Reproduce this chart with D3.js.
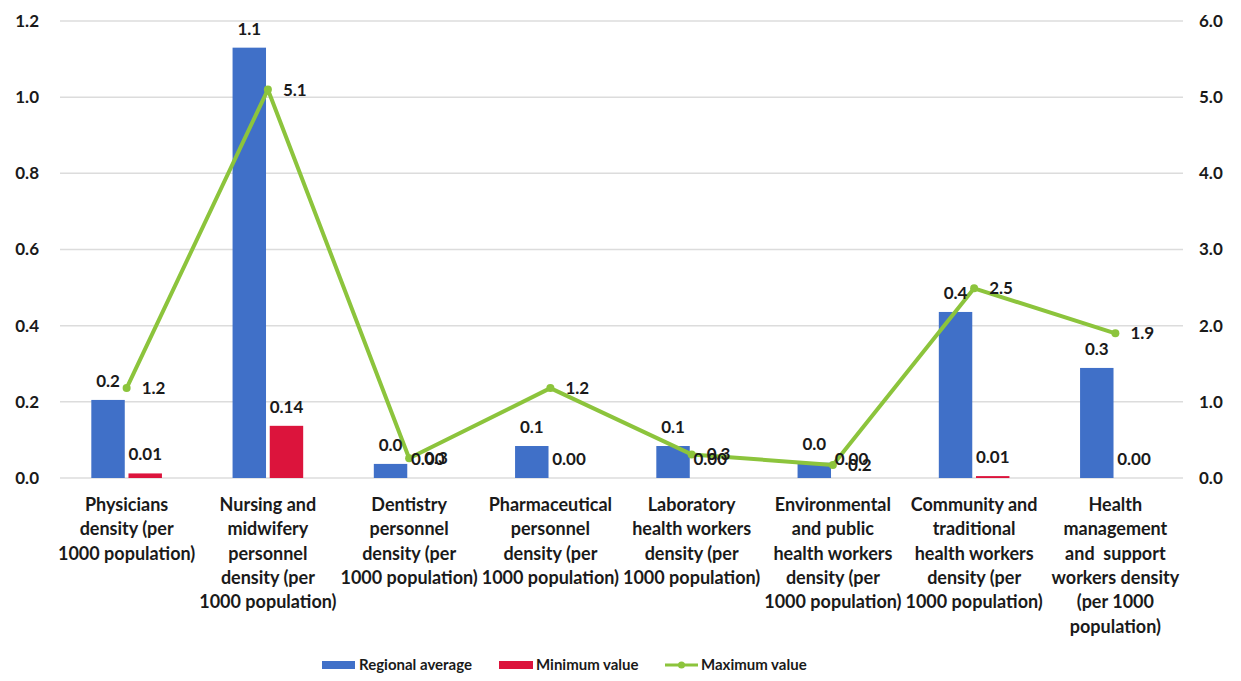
<!DOCTYPE html>
<html><head><meta charset="utf-8">
<script src="https://cdn.jsdelivr.net/npm/d3@7"></script>
<style>
body{margin:0;background:#fff;}
text{font-family:Lato,"Open Sans",sans-serif;font-weight:700;fill:#1a1a1a;}
</style></head>
<body><svg id="c" width="1241" height="681"></svg>
<script>
const categories = [
  ["Physicians","density (per","1000 population)"],
  ["Nursing and","midwifery","personnel","density (per","1000 population)"],
  ["Dentistry","personnel","density (per","1000 population)"],
  ["Pharmaceutical","personnel","density (per","1000 population)"],
  ["Laboratory","health workers","density (per","1000 population)"],
  ["Environmental","and public","health workers","density (per","1000 population)"],
  ["Community and","traditional","health workers","density (per","1000 population)"],
  ["Health","management","and  support","workers density","(per 1000","population)"]
];
const regionalAverage = [0.205, 1.13, 0.037, 0.084, 0.084, 0.04, 0.436, 0.289];
const minimumValue   = [0.012, 0.137, 0.0, 0.0, 0.0, 0.0, 0.005, 0.0];
const maximumValue   = [1.18, 5.1, 0.26, 1.18, 0.31, 0.17, 2.49, 1.9];
const leftTicks  = [0, 0.2, 0.4, 0.6, 0.8, 1.0, 1.2];
const rightTicks = [0, 1, 2, 3, 4, 5, 6];
const seriesNames = ["Regional average","Minimum value","Maximum value"];

const colors = {avg:"#4070c8", min:"#dc143c", max:"#8cc43c"};
const svg = d3.select("#c");
const L = 56, R = 1186, T = 21, B = 478;
const ids = categories.map((d,i)=>i);

const x0 = d3.scaleBand().domain(ids).range([L,R]).paddingInner(0.5).paddingOuter(0.25);
const x1 = d3.scaleBand().domain(["avg","min"]).range([0,x0.bandwidth()]).paddingInner(0.1);
const yL = d3.scaleLinear().domain([0,1.2]).range([B,T]);
const yR = d3.scaleLinear().domain([0,6]).range([B,T]);

// gridlines
svg.append("g").selectAll("line").data(leftTicks).join("line")
  .attr("x1",60).attr("x2",1183)
  .attr("y1",d=>yL(d)).attr("y2",d=>yL(d))
  .attr("stroke","#dcdcdc").attr("stroke-width",1.5);

// left axis
const axL = d3.axisLeft(yL).tickValues(leftTicks).tickFormat(d3.format(".1f")).tickSize(0).tickPadding(0);
const gL = svg.append("g").attr("transform","translate(39,0)").call(axL);
gL.select(".domain").remove();
gL.selectAll("text").attr("font-size",17).attr("font-family","Lato").attr("font-weight",700).attr("fill","#1a1a1a");

const axR = d3.axisRight(yR).tickValues(rightTicks).tickFormat(d3.format(".1f")).tickSize(0).tickPadding(0);
const gR = svg.append("g").attr("transform","translate(1199,0)").call(axR);
gR.select(".domain").remove();
gR.selectAll("text").attr("font-size",17).attr("font-family","Lato").attr("font-weight",700).attr("fill","#1a1a1a");

// bars
const g = svg.append("g");
g.selectAll(".avg").data(regionalAverage).join("rect")
  .attr("x",(d,i)=>x0(i)+x1("avg")).attr("width",x1.bandwidth())
  .attr("y",d=>yL(d)).attr("height",d=>B-yL(d)).attr("fill",colors.avg);
g.selectAll(".min").data(minimumValue).join("rect")
  .attr("x",(d,i)=>x0(i)+x1("min")).attr("width",x1.bandwidth())
  .attr("y",d=>yL(d)).attr("height",d=>B-yL(d)).attr("fill",colors.min);

// line
const cx = i => x0(i)+x0.bandwidth()/2;
const line = d3.line().x((d,i)=>cx(i)).y(d=>yR(d));
svg.append("path").datum(maximumValue).attr("d",line)
  .attr("fill","none").attr("stroke",colors.max).attr("stroke-width",4).attr("stroke-linejoin","round");
svg.append("g").selectAll("circle").data(maximumValue).join("circle")
  .attr("cx",(d,i)=>cx(i)).attr("cy",d=>yR(d)).attr("r",4).attr("fill",colors.max);

// value labels
const lbl = svg.append("g").attr("font-size",17);
lbl.selectAll(".la").data(regionalAverage).join("text")
  .attr("x",(d,i)=>x0(i)+x1("avg")+x1.bandwidth()/2).attr("y",d=>yL(d)-13)
  .attr("text-anchor","middle").text(d=>d3.format(".1f")(d));
lbl.selectAll(".lm").data(minimumValue).join("text")
  .attr("x",(d,i)=>x0(i)+x1("min")+x1.bandwidth()/2).attr("y",d=>yL(d)-13)
  .attr("text-anchor","middle").text(d=>d3.format(".2f")(d));
lbl.selectAll(".lx").data(maximumValue).join("text")
  .attr("x",(d,i)=>cx(i)+15).attr("y",d=>yR(d)+6)
  .attr("text-anchor","start").text(d=>d3.format(".1f")(d));

// category labels
const cat = svg.append("g").attr("font-size",18);
categories.forEach((lines,i)=>{
  const t = cat.append("text").attr("text-anchor","middle").attr("x",cx(i)).attr("y",511);
  lines.forEach((ln,j)=>t.append("tspan").attr("x",cx(i)).attr("dy",j?24.3:0).attr("xml:space","preserve").text(ln));
});

// legend
const lg = svg.append("g").attr("font-size",15);
lg.append("rect").attr("x",322).attr("y",661).attr("width",33).attr("height",8).attr("fill",colors.avg);
lg.append("text").attr("x",359).attr("y",670).text(seriesNames[0]);
lg.append("rect").attr("x",499).attr("y",661).attr("width",34).attr("height",8).attr("fill",colors.min);
lg.append("text").attr("x",536).attr("y",670).text(seriesNames[1]);
lg.append("line").attr("x1",665).attr("x2",698).attr("y1",665).attr("y2",665).attr("stroke",colors.max).attr("stroke-width",3);
lg.append("circle").attr("cx",681.5).attr("cy",665).attr("r",3.5).attr("fill",colors.max);
lg.append("text").attr("x",701).attr("y",670).text(seriesNames[2]);
</script></body></html>
